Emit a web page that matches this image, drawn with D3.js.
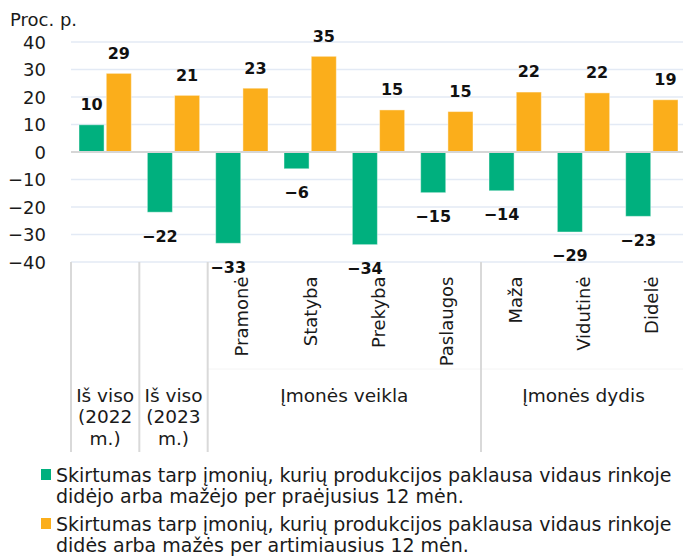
<!DOCTYPE html>
<html>
<head>
<meta charset="utf-8">
<script src="https://cdn.jsdelivr.net/npm/d3@7"></script>
<style>
  html, body { margin: 0; padding: 0; background: #fff; }
  svg { display: block; font-family: "DejaVu Sans", Verdana, sans-serif; }
</style>
</head>
<body>
<svg id="chart" width="683" height="558"></svg>
<script>
  // chart data
  var categories = ["Iš viso\n(2022\nm.)", "Iš viso\n(2023\nm.)", "Pramonė", "Statyba", "Prekyba",
      "Paslaugos", "Maža", "Vidutinė", "Didelė"];
  var groupNames = [null, null, "Įmonės veikla", "Įmonės veikla", "Įmonės veikla", "Įmonės veikla",
      "Įmonės dydis", "Įmonės dydis", "Įmonės dydis"];
  var pastValues = [9.9, -21.9, -33.2, -6.1, -33.7, -14.8, -14.1, -29.1, -23.4];
  var nextValues = [28.6, 20.6, 23.2, 34.8, 15.3, 14.7, 21.8, 21.5, 19.0];
  var yTicks = [40, 30, 20, 10, 0, -10, -20, -30, -40];
  var legendLabels = [
      ["Skirtumas tarp įmonių, kurių produkcijos paklausa vidaus rinkoje", "didėjo arba mažėjo per praėjusius 12 mėn."],
      ["Skirtumas tarp įmonių, kurių produkcijos paklausa vidaus rinkoje", "didės arba mažės per artimiausius 12 mėn."]
  ];
  var colors = ["#00b07e", "#fbae1b"];

  var svg = d3.select("#chart"),
      plotLeft = 71, plotRight = 686, plotTop = 42, plotBottom = 262;

  var x = d3.scaleBand().domain(d3.range(categories.length)).range([plotLeft, plotRight]);
  var x1 = d3.scaleBand().domain([0, 1]).range([8, x.bandwidth() - 8]).paddingInner(0.08);
  var y = d3.scaleLinear().domain([-40, 40]).range([plotBottom, plotTop]);
  var fmt = function(v) { return d3.format(".0f")(v).replace("-", "\u2212"); };

  // gridlines
  svg.append("g").selectAll("line")
      .data(yTicks.filter(function(d) { return d !== 0; }))
      .enter().append("line")
      .attr("x1", plotLeft).attr("x2", plotRight)
      .attr("y1", function(d) { return y(d); }).attr("y2", function(d) { return y(d); })
      .attr("stroke", "#e3eaf5").attr("stroke-width", 1.5);

  // y axis labels
  svg.append("g").selectAll("text")
      .data(yTicks)
      .enter().append("text")
      .attr("x", 46).attr("y", function(d) { return y(d) + 6.5; })
      .attr("text-anchor", "end")
      .attr("font-size", 18).attr("fill", "#1a1a1a")
      .text(fmt);

  svg.append("text").attr("x", 10).attr("y", 26)
      .attr("font-size", 18).attr("fill", "#1a1a1a").text("Proc. p.");

  // bars
  var series = [pastValues, nextValues];
  series.forEach(function(values, s) {
      svg.append("g").selectAll("rect")
          .data(values)
          .enter().append("rect")
          .attr("x", function(d, i) { return x(i) + x1(s); })
          .attr("width", x1.bandwidth())
          .attr("y", function(d) { return y(Math.max(0, d)); })
          .attr("height", function(d) { return Math.abs(y(d) - y(0)); })
          .attr("fill", colors[s])
          .attr("stroke", "#fff").attr("stroke-opacity", 0.45).attr("stroke-width", 1);

      svg.append("g").selectAll("text")
          .data(values)
          .enter().append("text")
          .attr("x", function(d, i) { return x(i) + x1(s) + x1.bandwidth() / 2; })
          .attr("y", function(d) { return d >= 0 ? y(d) - 14.7 : y(d) + 29.3; })
          .attr("text-anchor", "middle")
          .attr("font-size", 16).attr("font-weight", "bold").attr("fill", "#111")
          .text(function(d) { return fmt(d); });
  });

  // zero line
  svg.append("line").attr("x1", plotLeft).attr("x2", plotRight)
      .attr("y1", y(0)).attr("y2", y(0))
      .attr("stroke", "#d6d6d6").attr("stroke-width", 2);

  // category axis
  var axisBottom = 452, levelSplit = 369;
  svg.append("line").attr("x1", x(2)).attr("x2", plotRight)
      .attr("y1", levelSplit).attr("y2", levelSplit)
      .attr("stroke", "#f4f4f4").attr("stroke-width", 1);

  var seps = [0];
  for (var i = 1; i < categories.length; i++) {
      if (groupNames[i] === null || groupNames[i] !== groupNames[i - 1]) seps.push(i);
  }
  svg.append("g").selectAll("line")
      .data(seps)
      .enter().append("line")
      .attr("x1", function(d) { return x(d); }).attr("x2", function(d) { return x(d); })
      .attr("y1", plotBottom).attr("y2", axisBottom)
      .attr("stroke", "#d9d9d9").attr("stroke-width", 2);

  categories.forEach(function(c, i) {
      var cx = x(i) + x.bandwidth() / 2;
      if (groupNames[i] === null) {
          var t = svg.append("text").attr("text-anchor", "middle")
              .attr("font-size", 18.5).attr("fill", "#1a1a1a");
          c.split("\n").forEach(function(line, k) {
              t.append("tspan").attr("x", cx).attr("y", 401.7 + k * 21.7).text(line);
          });
      } else {
          svg.append("text")
              .attr("transform", "translate(" + cx + ",276.5) rotate(-90)")
              .attr("text-anchor", "end").attr("dominant-baseline", "central")
              .attr("font-size", 18).attr("fill", "#1a1a1a").text(c);
      }
  });

  // group labels
  var groups = [];
  groupNames.forEach(function(g, i) {
      if (g === null) return;
      var last = groups[groups.length - 1];
      if (last && last.name === g) last.to = i;
      else groups.push({ name: g, from: i, to: i });
  });
  svg.append("g").selectAll("text")
      .data(groups)
      .enter().append("text")
      .attr("x", function(d) { return (x(d.from) + x(d.to) + x.bandwidth()) / 2; })
      .attr("y", 401.7)
      .attr("text-anchor", "middle")
      .attr("font-size", 18.5).attr("fill", "#1a1a1a")
      .text(function(d) { return d.name; });

  // legend
  legendLabels.forEach(function(lines, s) {
      var ly = 482 + s * 49;
      svg.append("rect").attr("x", 41).attr("y", ly - 13).attr("width", 10).attr("height", 11)
          .attr("fill", colors[s]);
      lines.forEach(function(line, k) {
          svg.append("text").attr("x", 56).attr("y", ly + k * 21)
              .attr("font-size", 19).attr("fill", "#1a1a1a").text(line);
      });
  });
</script>
</body>
</html>
